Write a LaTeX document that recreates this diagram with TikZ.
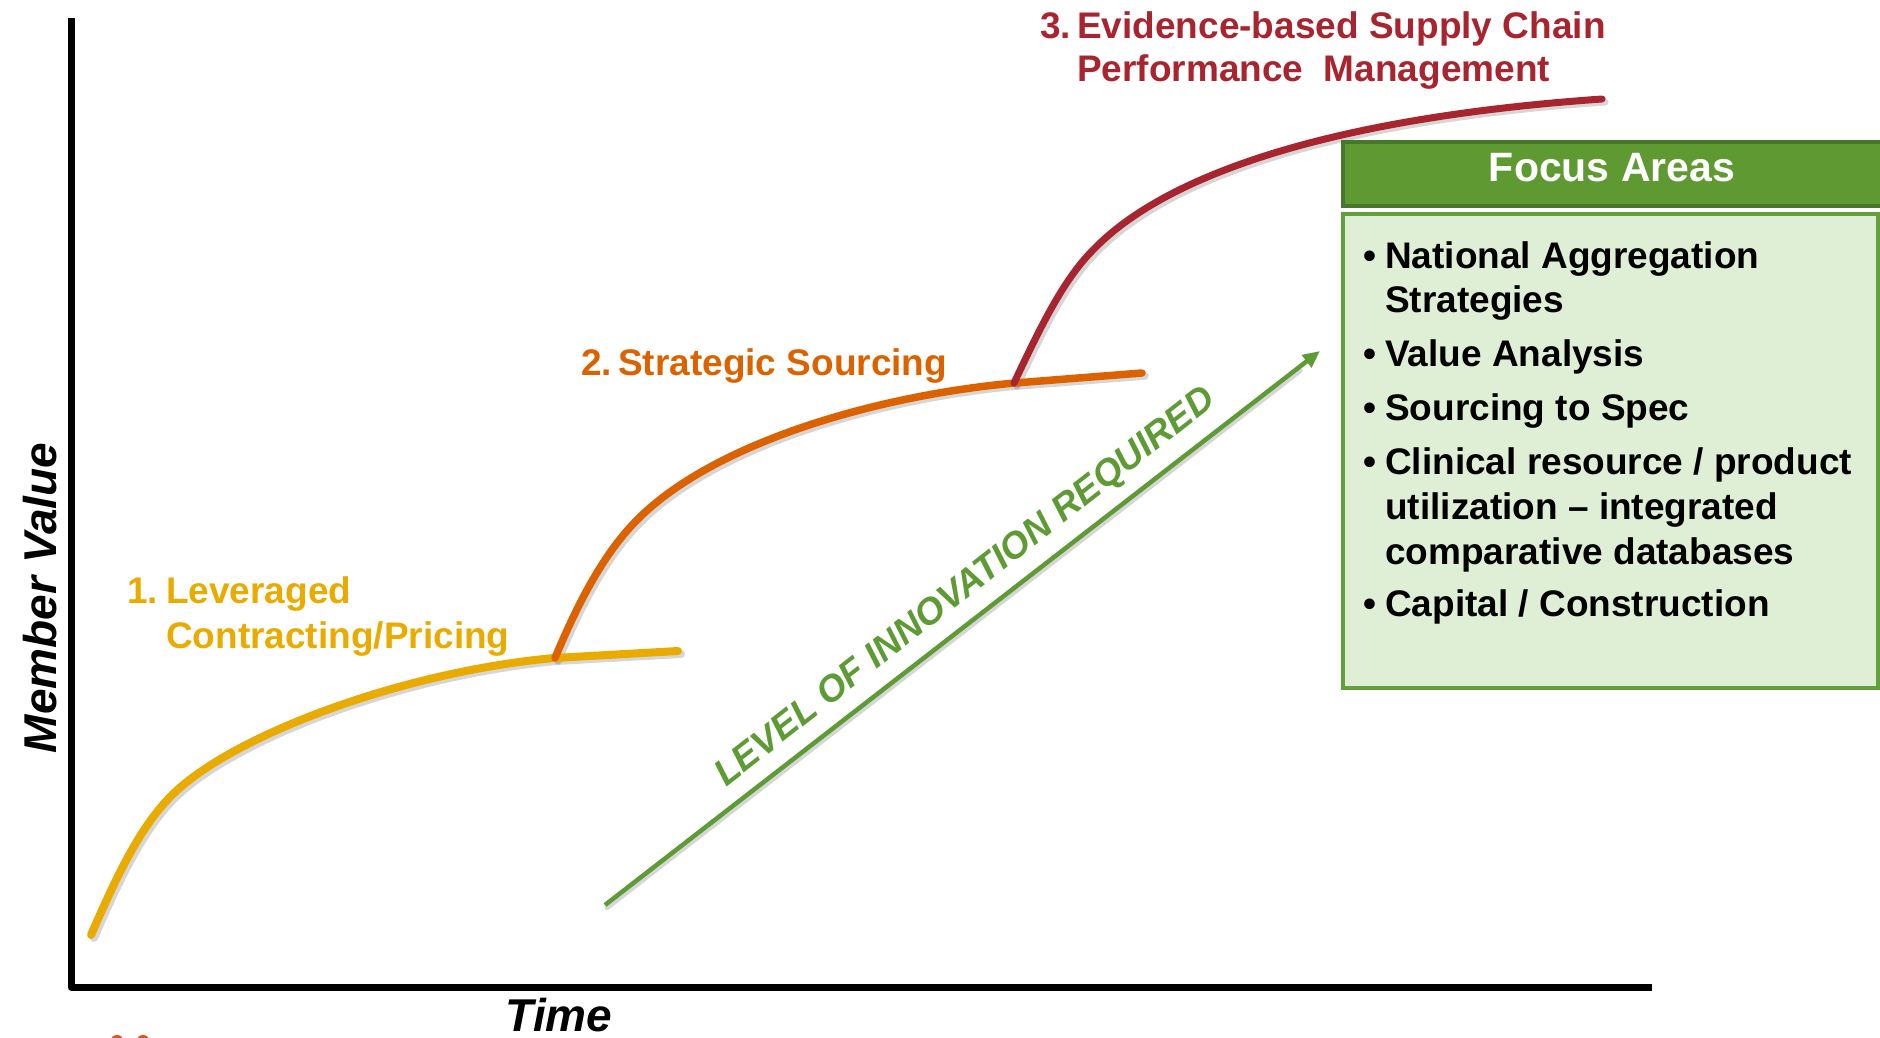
\documentclass[tikz,border=0pt]{standalone}
\usepackage{fontspec}
\setmainfont{Liberation Sans}
\usetikzlibrary{arrows.meta,calc}
\definecolor{cyel}{HTML}{E9AB00}
\definecolor{cora}{HTML}{DC6200}
\definecolor{cred}{HTML}{A8242F}
\definecolor{cgrn}{HTML}{5F9B35}
\definecolor{hdrfill}{HTML}{5E9932}
\definecolor{hdrline}{HTML}{46772A}
\definecolor{bodyfill}{HTML}{DFEFD6}
\definecolor{bodyline}{HTML}{62A03C}
\definecolor{logo}{HTML}{E0531C}
\def\yelpath{(91,-935) .. controls (118,-873) and (140,-828) .. (170,-797) .. controls (228,-737) and (400,-672) .. (554,-658) -- (678,-651)}
\def\orapath{(555,-658) .. controls (580,-598) and (605,-553) .. (635,-522) .. controls (712,-442) and (880,-395) .. (1015,-383) -- (1142,-373)}
\def\redpath{(1014,-383) .. controls (1040,-328) and (1063,-280) .. (1093,-250) .. controls (1165,-175) and (1330,-118) .. (1602,-99)}
\begin{document}
\begin{tikzpicture}[x=1pt,y=1pt,
  lbl/.style={inner sep=0pt, anchor=base west, font=\bfseries\fontsize{37}{44}\selectfont},
  blt/.style={inner sep=0pt, anchor=base west, text=black, font=\bfseries\fontsize{37}{44}\selectfont},
  axisline/.style={line width=7pt, line join=round, line cap=butt},
  curveline/.style={line cap=round, line join=round},
  shadowline/.style={draw=black, opacity=0.16, line cap=round, line join=round},
  arrowline/.style={draw=cgrn, line width=4.5pt, -{Triangle[length=17pt,width=15pt]}},
  axislabel/.style={inner sep=0pt, font=\bfseries\itshape\fontsize{46}{50}\selectfont}
]
\useasboundingbox (0,0) rectangle (1880,-1038);

% axes
\coordinate (ytop) at (71,-18);
\coordinate (orig) at (71,-987);
\coordinate (xend) at (1652,-987);
\draw[axisline] (ytop) -- (orig) -- (xend);
\node[axislabel, rotate=90, anchor=base] (ylab) at (56,-598) {Member Value};
\node[axislabel, anchor=base] (xlab) at (559,-1031) {Time};

% logo fragment at bottom edge
\fill[logo] (117,-1040) ellipse [x radius=6pt, y radius=5pt];
\fill[logo] (143,-1040) ellipse [x radius=6pt, y radius=5pt];

% shadows
\begin{scope}[shift={(3,-3)}]
\draw[shadowline, line width=8pt] \yelpath;
\draw[shadowline, line width=7.5pt] \orapath;
\draw[shadowline, line width=7pt] \redpath;
\end{scope}

% curves
\draw[curveline, cyel, line width=8pt] \yelpath;
\draw[curveline, cora, line width=7.5pt] \orapath;
\draw[curveline, cred, line width=7pt] \redpath;

% curve labels
\node[lbl, text=cred] (t3n) at (1040,-39) {3.};
\node[lbl, text=cred] (t3a) at (1077,-39) {Evidence-based Supply Chain};
\node[lbl, text=cred] (t3b) at (1077,-82) {Performance\ \ Management};
\node[lbl, text=cora] (t2n) at (581,-375) {2.};
\node[lbl, text=cora] (t2a) at (618,-375) {Strategic Sourcing};
\node[lbl, text=cyel] (t1n) at (127,-603) {1.};
\node[lbl, text=cyel] (t1a) at (166,-603) {Leveraged};
\node[lbl, text=cyel] (t1b) at (166,-648) {Contracting/Pricing};

% innovation arrow
\coordinate (arrS) at (605,-905);
\coordinate (arrE) at (1320,-351);
\coordinate (arrSh) at ($(arrE)!0.03!(arrS)$);
\draw[shadowline, line width=4.5pt, transform canvas={shift={(2pt,-3pt)}}] (arrS) -- (arrSh);
\draw[arrowline] (arrS) -- (arrE);
\node[inner sep=0pt, rotate=38, text=cgrn, font=\bfseries\itshape\fontsize{37}{40}\selectfont] (lvl) at (966,-588) {LEVEL OF INNOVATION REQUIRED};

% focus areas
\node[draw=hdrline, line width=4pt, fill=hdrfill, anchor=north west, minimum width=560pt, minimum height=64pt, inner sep=0pt] (hdr) at (1341,-140) {};
\node[inner sep=0pt, anchor=base, text=white, font=\bfseries\fontsize{41}{46}\selectfont] (hdrtxt) at (1612,-182) {Focus Areas};
\node[draw=bodyline, line width=4pt, fill=bodyfill, anchor=north west, minimum width=535pt, minimum height=474pt, inner sep=0pt] (body) at (1341,-212) {};

\node[blt] (b1) at (1363,-268) {\makebox[22pt][l]{•}National Aggregation};
\node[blt] (b1c) at (1385,-312) {Strategies};
\node[blt] (b2) at (1363,-366) {\makebox[22pt][l]{•}Value Analysis};
\node[blt] (b3) at (1363,-420) {\makebox[22pt][l]{•}Sourcing to Spec};
\node[blt] (b4) at (1363,-474) {\makebox[22pt][l]{•}Clinical resource / product};
\node[blt] (b4c) at (1385,-519) {utilization – integrated};
\node[blt] (b4d) at (1385,-564) {comparative databases};
\node[blt] (b5) at (1363,-616) {\makebox[22pt][l]{•}Capital / Construction};
\end{tikzpicture}
\end{document}
